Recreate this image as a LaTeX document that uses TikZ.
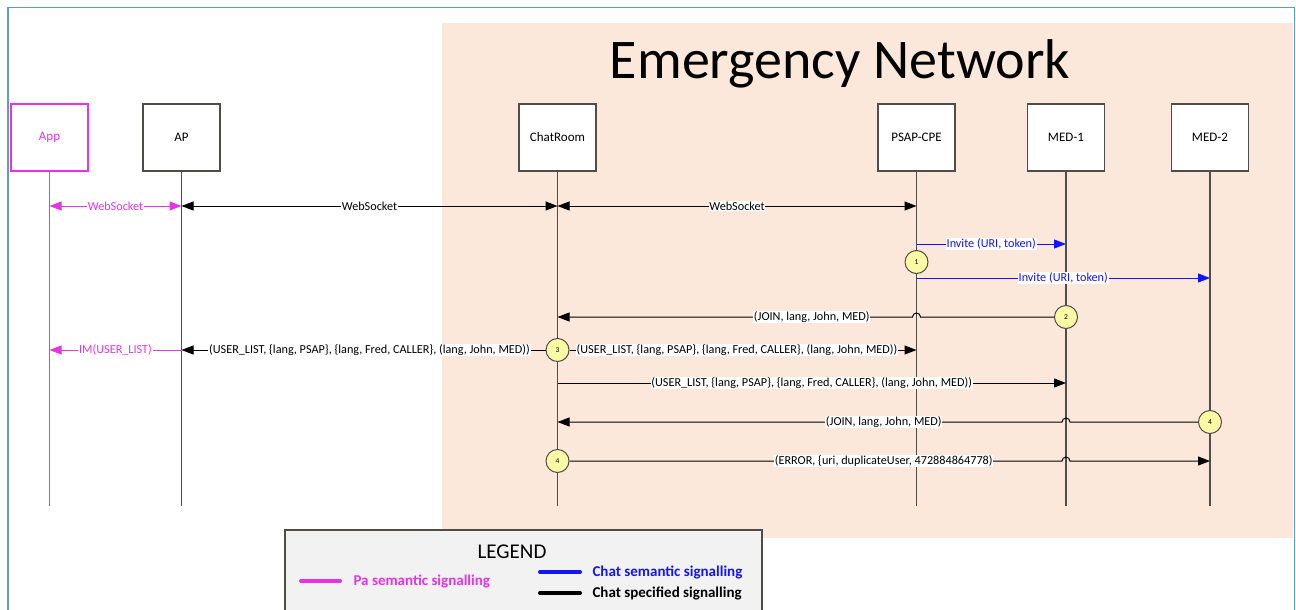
\documentclass[tikz,border=0pt]{standalone}
\usepackage{fontspec}
\setmainfont{Carlito}
\usetikzlibrary{arrows.meta,positioning,calc}

\definecolor{peach}{RGB}{252,232,218}
\definecolor{pamag}{RGB}{232,50,232}
\definecolor{semblue}{RGB}{20,20,250}
\definecolor{frameblue}{RGB}{91,155,213}
\definecolor{lifegray}{RGB}{80,76,72}
\definecolor{numyellow}{RGB}{250,250,165}
\definecolor{legendgray}{RGB}{242,242,242}

\newcommand{\userlist}{(USER\_LIST, \{lang, PSAP\}, \{lang, Fred, CALLER\}, (lang, John, MED))}

\tikzset{
  seqtip/.tip={Triangle[length=12pt,width=9pt]},
  lifebox/.style={draw=lifegray, line width=1.2pt, fill=white, minimum width=77pt,
    minimum height=67pt, inner sep=0pt, font=\fontsize{13}{15}\selectfont},
  lifeline/.style={draw=lifegray, line width=1.2pt},
  msg/.style={line width=1pt, -seqtip},
  dmsg/.style={line width=1pt, seqtip-seqtip},
  lbl/.style={fill=white, inner sep=0.8pt, font=\fontsize{12.2}{14}\selectfont},
  seqnum/.style={circle, draw=lifegray, line width=1pt, fill=numyellow, minimum size=23pt,
    inner sep=0pt, font=\fontsize{7.5}{8}\selectfont},
  legendtxt/.style={anchor=west, font=\fontsize{15}{18}\selectfont\bfseries}
}

\begin{document}
\begin{tikzpicture}[x=1pt, y=-1pt]
\useasboundingbox (0,0) rectangle (1296,610);

% Emergency network area
\fill[peach] (442,23) rectangle (1293,538);
\node[anchor=base, font=\fontsize{56}{60}\selectfont] (title) at (840,78) {Emergency Network};

% Outer frame
\draw[frameblue, line width=1.5pt] (8,610) -- (8,7.5) -- (1294.5,7.5) -- (1294.5,610);

% Participants and lifelines
\node[lifebox, draw=pamag, text=pamag] (app) at (49.5,137.5) {App};
\draw[lifeline, draw=pamag] (app.south) -- ++(0,334);
\foreach \name/\x/\txt in {ap/181.5/AP, chat/557.5/ChatRoom, psap/916.5/PSAP-CPE,
    medone/1066/MED-1, medtwo/1210/MED-2}
{
  \node[lifebox] (\name) at (\x,137.5) {\txt};
  \draw[lifeline] (\name.south) -- ++(0,334);
}

% Message rows
\foreach \row/\y in {ws/206, inva/244, one/262, invb/278, joina/317, list/350,
    listb/383, joinb/422, err/461}
  \coordinate (\row) at (0,\y);

% Sequence numbers
\node[seqnum] (num1) at (psap |- one) {1};
\node[seqnum] (num2) at (medone |- joina) {2};
\node[seqnum] (num3) at (chat |- list) {3};
\node[seqnum] (num4a) at (medtwo |- joinb) {4};
\node[seqnum] (num4b) at (chat |- err) {4};

% WebSocket setup
\draw[dmsg, pamag] (app |- ws) -- node[lbl, text=pamag] {WebSocket} (ap |- ws);
\draw[dmsg] (ap |- ws) -- node[lbl] {WebSocket} (chat |- ws);
\draw[dmsg] (chat |- ws) -- node[lbl] {WebSocket} (psap |- ws);

% Invites
\draw[msg, semblue] (psap |- inva) -- node[lbl, text=semblue] {Invite (URI, token)} (medone |- inva);
\draw[msg, semblue] (psap |- invb) -- node[lbl, text=semblue] {Invite (URI, token)} (medtwo |- invb);

% Join of MED-1
\draw[msg] (num2.west) -- ($(psap |- joina)+(4,0)$) arc[start angle=0, end angle=180, radius=4pt]
  -- (chat |- joina);
\node[lbl] (joinalbl) at ($(chat |- joina)!0.5!(medone |- joina)$) {(JOIN, lang, John, MED)};

% User list
\draw[msg] (num3.west) -- (ap |- list);
\node[lbl] (listlbl) at ($(ap |- list)!0.5!(chat |- list)$) {\userlist};
\draw[msg, pamag] (ap |- list) -- node[lbl, text=pamag] {IM(USER\_LIST)} (app |- list);
\draw[msg] (num3.east) -- (psap |- list);
\node[lbl] (listalbl) at ($(chat |- list)!0.5!(psap |- list)$) {\userlist};
\draw[msg] (chat |- listb) -- node[lbl] {\userlist} (medone |- listb);

% Join of MED-2
\draw[msg] (num4a.west) -- ($(medone |- joinb)+(4,0)$) arc[start angle=0, end angle=180, radius=4pt]
  -- (chat |- joinb);
\node[lbl] (joinblbl) at ($(chat |- joinb)!0.5!(medtwo |- joinb)$) {(JOIN, lang, John, MED)};

% Error
\draw[msg] (num4b.east) -- ($(medone |- err)+(-4,0)$) arc[start angle=180, end angle=0, radius=4pt]
  -- (medtwo |- err);
\node[lbl] (errlbl) at ($(chat |- err)!0.5!(medtwo |- err)$) {(ERROR, \{uri, duplicateUser, 472884864778)};

% Legend
\draw[draw=lifegray, fill=legendgray, line width=1.2pt] (285,530) rectangle (762,625);
\node[font=\fontsize{21}{24}\selectfont] (legend) at (512,552) {LEGEND};
\draw[pamag, line width=4pt, line cap=round] (301,581) -- (340,581);
\node[legendtxt, text=pamag] (palgd) at (350,581) {Pa semantic signalling};
\draw[semblue, line width=4pt, line cap=round] (540,572) -- (580,572);
\node[legendtxt, text=semblue] (semlgd) at (589,572) {Chat semantic signalling};
\draw[black, line width=4pt, line cap=round] (540,593) -- (580,593);
\node[legendtxt] (speclgd) at (589,593) {Chat specified signalling};

\end{tikzpicture}
\end{document}
